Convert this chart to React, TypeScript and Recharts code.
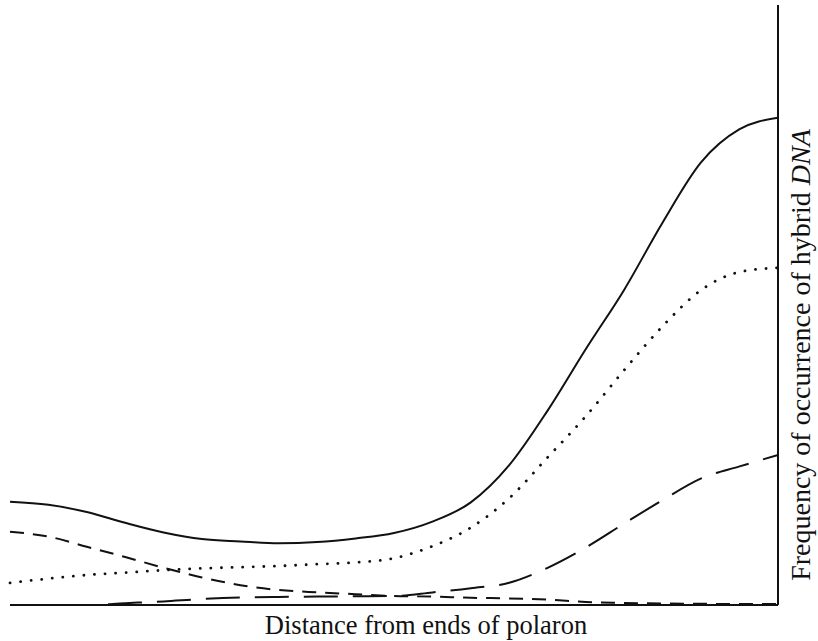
import { Label, Line, LineChart, XAxis, YAxis } from "recharts";

// distance along the polaron (arbitrary units, ends at 0 and 100)
const distance = [0, 5, 10, 15, 20, 25, 30, 35, 40, 45, 50, 55, 60, 65, 70, 75, 80, 85, 90, 95, 100];

// frequency curves (0 = baseline, 100 = top of frame)
const solidCurve = [17.2, 16.7, 15.5, 13.7, 12.1, 11.0, 10.6, 10.3, 10.5, 11.1, 12.0, 13.9, 17.1, 23.3, 32.4, 42.7, 52.6, 63.8, 73.8, 79.3, 81.2];
const dottedCurve = [3.7, 4.4, 5.0, 5.4, 5.8, 6.1, 6.3, 6.5, 6.8, 7.1, 7.8, 9.8, 12.9, 17.8, 24.6, 31.5, 39.2, 46.5, 52.5, 55.5, 56.2];
const shortDashCurve = [12.2, 11.4, 9.7, 8.0, 6.2, 4.6, 3.3, 2.5, 2.1, 1.8, 1.5, 1.4, 1.2, 1.1, 0.9, 0.5, 0.35, 0.25, 0.2, 0.15, 0.15];
const longDashCurve = [0, 0, 0, 0.3, 0.6, 1.0, 1.25, 1.35, 1.4, 1.45, 1.5, 2.1, 2.8, 3.7, 6.2, 9.6, 13.6, 17.5, 21.1, 23.1, 25];

const data = distance.map((x, i) => ({
  x,
  solid: solidCurve[i],
  dotted: dottedCurve[i],
  shortDash: shortDashCurve[i],
  longDash: longDashCurve[i],
}));

const FONT = "'Liberation Serif', 'DejaVu Serif', serif";

function BottomLabel({ viewBox }: any) {
  const { x, y, width } = viewBox;
  return (
    <text x={x + width / 2 + 32} y={y + 29} textAnchor="middle" fontFamily={FONT} fontSize={26.5} fill="#111">
      Distance from ends of polaron
    </text>
  );
}

function RightLabel({ viewBox }: any) {
  const { x, y, height } = viewBox;
  const cx = x + 32;
  const cy = y + height / 2 + 50;
  return (
    <text
      x={cx}
      y={cy}
      transform={`rotate(-90 ${cx} ${cy})`}
      textAnchor="middle"
      fontFamily={FONT}
      fontSize={28}
      fill="#111"
    >
      Frequency of occurrence of hybrid <tspan fontStyle="italic">DNA</tspan>
    </text>
  );
}

export default function App() {
  return (
    <div style={{ position: "absolute", left: 0, top: 0, background: "#fff" }}>
      <LineChart width={818} height={641} data={data} margin={{ top: 5, right: 0, bottom: 0, left: 10 }}>
        <XAxis
          dataKey="x"
          type="number"
          domain={[0, 100]}
          ticks={[]}
          tick={false}
          tickLine={false}
          height={36}
          axisLine={{ stroke: "#111", strokeWidth: 2 }}
        >
          <Label content={<BottomLabel />} />
        </XAxis>
        <YAxis
          yAxisId="l"
          domain={[0, 100]}
          width={0}
          tick={false}
          tickLine={false}
          axisLine={{ stroke: "#111", strokeWidth: 2 }}
        />
        <YAxis
          yAxisId="r"
          orientation="right"
          domain={[0, 100]}
          width={40}
          tick={false}
          tickLine={false}
          axisLine={{ stroke: "#111", strokeWidth: 2 }}
        >
          <Label content={<RightLabel />} />
        </YAxis>
        <Line yAxisId="l" type="monotone" dataKey="solid" stroke="#111" strokeWidth={2} dot={false} activeDot={false} isAnimationActive={false} />
        <Line
          yAxisId="l"
          type="monotone"
          dataKey="dotted"
          stroke="#111"
          strokeWidth={2.8}
          strokeDasharray="0.1 10.5"
          strokeLinecap="round"
          dot={false}
          activeDot={false}
          isAnimationActive={false}
        />
        <Line
          yAxisId="l"
          type="monotone"
          dataKey="shortDash"
          stroke="#111"
          strokeWidth={2}
          strokeDasharray="14 9"
          dot={false}
          activeDot={false}
          isAnimationActive={false}
        />
        <Line
          yAxisId="l"
          type="monotone"
          dataKey="longDash"
          stroke="#111"
          strokeWidth={2}
          strokeDasharray="34 15"
          dot={false}
          activeDot={false}
          isAnimationActive={false}
        />
      </LineChart>
    </div>
  );
}
